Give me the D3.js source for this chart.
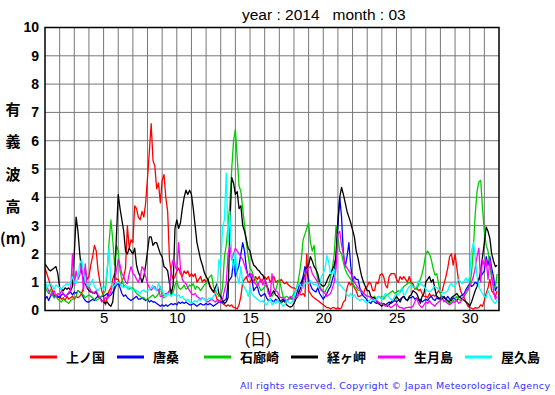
<!DOCTYPE html>
<html>
<head>
<meta charset="utf-8">
<title>有義波高 2014-03</title>
<script src="https://cdn.jsdelivr.net/npm/d3@7/dist/d3.min.js"></script>
<style>
  body { margin: 0; background: #fff; }
  svg { display: block; }
</style>
</head>
<body>
<script>
// 3時間ごとの値 (1日8個, 3/1 00時から)
var stations = ["上ノ国", "唐桑", "石廊崎", "経ヶ岬", "生月島", "屋久島"];
var colors = ["#ff0000", "#0000ff", "#00cc00", "#000000", "#ff00ff", "#00ffff"];
var xTicks = [5, 10, 15, 20, 25, 30];
var yTicks = [0, 1, 2, 3, 4, 5, 6, 7, 8, 9, 10];

var kaminokuni = [
  1.5, 1.3, 1.1, 0.9, 0.7, 0.55, 0.5, 0.45,
  0.5, 0.4, 0.45, 0.35, 0.5, 0.4, 0.45, 0.5,
  0.4, 0.5, 0.45, 0.5, 0.6, 0.8, 1.5, 1.1,
  1.2, 1.6, 1.9, 2.3, 2.1, 1.4, 1.0, 0.7,
  0.5, 0.2, 0.5, 0.7, 0.8, 1.1, 1.3, 1.1,
  1.1, 0.9, 1.0, 1.2, 1.5, 3.0, 2.2, 2.5,
  2.4, 3.7, 3.6, 3.3, 3.2, 3.5, 3.3, 3.8,
  4.7, 5.6, 6.6, 5.3, 5.1, 4.3, 4.5, 3.8,
  4.6, 4.8, 4.0, 3.5, 1.8, 1.3, 1.1, 1.2,
  1.4, 1.5, 1.3, 1.2, 1.4, 1.3, 1.4, 1.2,
  1.3, 1.2, 1.3, 1.0, 1.1, 1.2, 1.0, 1.1,
  1.0, 1.1, 0.9, 0.75, 0.7, 0.6, 0.4, 0.35,
  0.3, 0.25, 0.2, 0.15, 0.2, 0.15, 0.2, 0.1,
  0.1, 0.05, 0.2, 0.5, 1.0, 1.1, 1.2, 1.0,
  1.0, 1.1, 1.0, 1.2, 1.1, 1.2, 1.0, 1.1,
  1.2, 1.1, 1.2, 1.0, 1.1, 1.2, 1.0, 1.05,
  1.0, 1.1, 1.0, 0.95, 1.0, 0.9, 0.85, 0.8,
  0.8, 0.75, 0.7, 0.6, 0.55, 0.6, 0.5, 2.0,
  0.7, 0.6, 0.5, 0.45, 0.4, 0.35, 0.3, 0.25,
  0.2, 0.15, 0.1, 0.1, 0.05, 0.1, 0.1, 0.05,
  0.1, 0.05, 0.1, 0.3, 0.35, 0.8, 1.0, 0.9,
  1.0, 0.8, 0.7, 0.5, 0.5, 0.55, 0.6, 0.8,
  0.85, 1.0, 0.95, 0.7, 0.7, 1.0, 0.95, 1.25,
  1.3, 1.2, 0.9, 0.8, 1.2, 1.3, 1.3, 1.3,
  1.1, 1.0, 1.2, 1.1, 1.2, 1.1, 1.0, 1.2,
  1.0, 0.95, 0.75, 0.8, 0.7, 0.75, 0.6, 0.5,
  0.5, 0.45, 0.6, 0.5, 0.55, 0.5, 0.6, 0.7,
  0.6, 0.7, 0.95, 1.2, 1.5, 1.9, 2.0, 1.6,
  2.0, 1.5, 1.0, 0.7, 0.55, 0.45, 0.3, 0.15,
  0.1, 0.08, 0.05, 0.1, 0.08, 0.1, 0.2, 0.15,
  0.35, 0.6, 0.8, 1.1, 0.7, 0.6, 0.5, 0.7
];
var karakuwa = [
  0.4, 0.5, 0.35, 0.5, 0.6, 0.45, 0.55, 0.5,
  0.45, 0.55, 0.6, 0.5, 0.55, 0.6, 0.65, 0.55,
  0.65, 0.6, 0.7, 0.65, 0.6, 0.45, 0.35, 0.3,
  0.3, 0.35, 0.4, 0.35, 0.45, 0.5, 0.45, 0.5,
  0.5, 0.55, 0.6, 0.5, 0.55, 0.65, 0.75, 0.9,
  0.95, 0.8, 0.6, 0.5, 0.55, 0.45, 0.4, 0.35,
  0.4, 0.45, 0.5, 0.4, 0.4, 0.45, 0.4, 0.35,
  0.4, 0.3, 0.35, 0.3, 0.3, 0.25, 0.2, 0.15,
  0.2, 0.15, 0.2, 0.15, 0.2, 0.25, 0.2, 0.25,
  0.2, 0.3, 0.25, 0.3, 0.25, 0.3, 0.25, 0.2,
  0.2, 0.25, 0.2, 0.15, 0.2, 0.25, 0.2, 0.2,
  0.25, 0.2, 0.25, 0.2, 0.15, 0.2, 0.25, 0.3,
  0.3, 0.3, 0.35, 0.4, 1.0, 1.1, 1.2, 1.8,
  1.2, 1.4, 1.6, 2.0, 2.4, 2.1, 1.5, 1.2,
  1.3, 1.1, 0.7, 0.8, 0.85, 0.6, 0.5, 0.55,
  0.6, 0.45, 0.35, 0.4, 0.35, 0.3, 0.4, 0.35,
  0.3, 0.35, 0.4, 0.35, 0.3, 0.4, 0.45, 0.4,
  0.4, 0.5, 0.7, 0.9, 1.0, 1.2, 1.55, 1.4,
  1.1, 0.9, 0.75, 0.7, 0.65, 0.8, 0.6, 0.5,
  0.4, 0.5, 0.6, 0.75, 0.85, 1.1, 1.3, 2.0,
  3.0, 4.0, 3.3, 2.0, 1.55, 1.9, 2.4, 1.6,
  1.0, 1.2, 1.1, 1.1, 0.8, 0.6, 0.5, 0.45,
  0.35, 0.3, 0.25, 0.35, 0.3, 0.25, 0.3, 0.25,
  0.25, 0.2, 0.2, 0.25, 0.3, 0.25, 0.3, 0.35,
  0.3, 0.35, 0.4, 0.45, 0.5, 0.4, 0.35, 0.45,
  0.45, 0.5, 0.4, 0.45, 0.35, 0.4, 0.3, 0.35,
  0.4, 0.35, 0.45, 0.5, 0.4, 0.35, 0.45, 0.4,
  0.45, 0.5, 0.45, 0.4, 0.5, 0.4, 0.35, 0.45,
  0.4, 0.35, 0.45, 0.5, 0.55, 0.6, 0.75, 0.85,
  0.95, 0.85, 0.9, 1.0, 0.95, 1.1, 1.2, 1.3,
  1.4, 1.9, 1.6, 1.9, 1.5, 1.2, 0.7, 0.85
];
var irozaki = [
  0.85, 0.7, 0.6, 0.75, 0.55, 0.45, 0.5, 0.4,
  0.35, 0.3, 0.4, 0.35, 0.3, 0.25, 0.35, 0.4,
  0.45, 0.5, 0.7, 0.65, 0.6, 0.55, 0.45, 0.5,
  0.55, 0.5, 0.45, 0.4, 0.35, 0.4, 0.45, 0.5,
  0.6, 0.7, 1.4, 2.4, 3.2, 2.5, 1.6, 2.3,
  2.1, 1.4, 1.1, 0.85, 0.9, 0.8, 0.75, 0.8,
  0.8, 0.7, 0.6, 0.55, 0.5, 0.45, 0.45, 0.4,
  0.35, 0.45, 0.5, 0.55, 0.45, 0.5, 0.6, 0.85,
  0.5, 0.45, 0.5, 0.6, 0.7, 0.55, 0.65, 0.9,
  1.05, 0.8, 0.75, 0.8, 0.9, 0.75, 0.8, 0.9,
  0.85, 0.95, 0.75, 0.85, 0.8, 0.7, 0.8, 0.9,
  0.95, 1.1, 1.2, 1.25, 0.85, 0.7, 0.6, 0.5,
  0.5, 0.8, 1.9, 2.3, 3.0, 3.8, 5.0, 6.0,
  6.4, 5.4, 4.4, 4.2, 3.6, 3.0, 2.4, 1.9,
  1.5, 1.4, 1.2, 1.1, 0.95, 0.85, 0.7, 0.75,
  0.85, 0.9, 0.7, 0.55, 0.5, 0.6, 0.7, 0.95,
  1.1, 0.8, 0.5, 0.45, 0.5, 0.45, 0.4, 0.5,
  0.6, 0.7, 0.95, 1.3, 1.8, 2.5, 2.7, 2.9,
  3.1, 2.4, 2.1, 2.3, 1.5, 1.1, 0.9, 0.75,
  0.7, 0.65, 0.8, 0.9, 1.2, 1.5, 2.0, 3.0,
  2.6, 2.1, 2.0, 1.7, 1.45, 1.3, 1.2, 1.1,
  1.0, 0.85, 0.8, 0.72, 0.7, 0.65, 0.6, 0.55,
  0.5, 0.5, 0.45, 0.45, 0.5, 0.4, 0.5, 0.45,
  0.5, 0.4, 0.5, 0.55, 0.6, 0.65, 0.7, 0.6,
  0.65, 0.7, 0.65, 0.75, 0.85, 0.9, 0.95, 1.0,
  0.95, 0.85, 0.8, 0.75, 0.9, 1.1, 1.3, 1.6,
  2.0, 2.1, 2.0, 1.8, 1.5, 1.25, 1.3, 0.95,
  0.6, 0.45, 0.3, 0.35, 0.3, 0.25, 0.3, 0.35,
  0.4, 0.5, 0.4, 0.35, 0.45, 0.5, 0.6, 0.7,
  0.9, 1.3, 2.2, 3.4, 4.2, 4.55, 4.6, 3.6,
  2.8, 2.3, 2.1, 1.6, 1.1, 0.9, 0.8, 1.3
];
var kyogamisaki = [
  1.65, 1.55, 1.45, 1.4, 1.45, 1.5, 1.55, 1.3,
  0.8, 0.75, 0.7, 0.8, 0.75, 0.8, 0.7, 0.85,
  2.0, 3.3, 2.8, 2.0, 1.4, 1.1, 0.95, 0.8,
  0.7, 0.65, 0.65, 0.6, 0.65, 0.5, 0.45, 0.35,
  0.3, 0.25, 0.3, 0.2, 0.15, 0.3, 0.95, 2.6,
  4.1, 3.6, 3.2, 2.8, 2.1, 2.0, 2.2, 2.1,
  2.0, 2.2, 1.6, 1.35, 1.2, 1.0, 1.2, 1.6,
  2.1, 2.6, 2.6, 2.3, 2.4, 2.4, 2.2, 2.0,
  1.9, 1.55, 1.5, 1.4, 0.96, 0.6, 0.9, 2.9,
  3.2, 2.9, 3.1, 3.6, 4.0, 4.25, 4.1, 4.25,
  4.1, 3.6, 3.0, 2.4, 2.1, 1.8, 1.6, 1.35,
  1.2, 1.1, 0.85, 0.75, 0.65, 0.8, 0.95, 0.6,
  0.5, 0.35, 0.25, 0.3, 0.45, 3.0, 4.7, 4.5,
  4.1, 4.2, 3.6, 3.7, 3.0, 2.8, 2.5, 2.2,
  2.1, 1.8, 1.6, 1.55, 1.45, 1.4, 1.3, 1.25,
  1.1, 0.9, 0.75, 0.5, 0.6, 0.7, 0.55, 0.5,
  0.4, 0.25, 0.35, 0.3, 0.2, 0.15, 0.12, 0.15,
  0.25, 0.4, 0.5, 0.7, 0.85, 1.1, 1.25, 1.5,
  1.6, 1.9, 1.75, 1.55, 1.45, 1.3, 1.0, 0.9,
  0.85, 0.9, 1.05, 1.2, 1.3, 1.45, 1.6, 1.9,
  3.2, 4.0, 4.35, 4.1, 3.8, 3.5, 3.3, 3.1,
  2.85, 2.6, 2.1, 1.85, 1.5, 1.2, 1.0, 0.85,
  0.7, 0.7, 0.5, 0.45, 0.45, 0.35, 0.25, 0.2,
  0.15, 0.25, 0.2, 0.15, 0.2, 0.3, 0.35, 0.4,
  0.5, 0.4, 0.3, 0.45, 0.5, 0.4, 0.35, 0.5,
  0.55, 0.7, 0.65, 0.6, 0.45, 0.25, 0.5, 0.6,
  1.0, 1.1, 1.2, 1.0, 1.1, 0.75, 0.5, 0.45,
  0.4, 0.4, 0.5, 0.4, 0.35, 0.3, 0.45, 0.5,
  0.55, 0.6, 0.5, 0.45, 0.4, 0.35, 0.3, 0.25,
  0.15, 0.3, 0.5, 0.7, 0.85, 1.1, 1.4, 1.9,
  2.4, 2.95, 2.8, 2.55, 2.0, 1.75, 1.55, 1.6
];
var ikitsukishima = [
  0.95, 0.85, 0.7, 0.55, 0.6, 0.7, 0.5, 0.6,
  0.55, 0.7, 0.6, 0.5, 0.55, 0.65, 0.7, 2.0,
  0.9, 1.4, 1.1, 1.25, 1.65, 0.7, 1.65, 0.8,
  0.85, 0.7, 0.6, 0.65, 0.7, 0.55, 0.45, 0.3,
  0.35, 0.45, 0.4, 0.5, 0.7, 0.85, 1.0, 1.4,
  1.8, 1.6, 1.3, 1.2, 1.0, 0.95, 1.3, 1.55,
  1.3, 1.25, 1.1, 1.0, 1.2, 1.55, 1.45, 1.2,
  0.95, 0.8, 0.72, 0.8, 0.85, 0.7, 0.75, 0.5,
  0.5, 0.55, 0.6, 0.6, 0.7, 1.5, 1.8, 1.6,
  1.4, 2.4, 1.5, 1.1, 1.0, 0.95, 0.8, 0.7,
  0.6, 0.55, 0.6, 0.5, 0.45, 0.4, 0.45, 0.4,
  0.35, 0.3, 0.35, 0.4, 0.35, 0.3, 0.35, 0.3,
  0.35, 0.4, 0.7, 0.95, 2.0, 2.3, 1.8, 2.0,
  2.2, 2.1, 2.0, 1.9, 1.8, 1.6, 1.4, 1.2,
  1.25, 1.3, 1.0, 0.95, 0.85, 1.0, 1.1, 0.9,
  1.1, 0.95, 0.6, 0.5, 1.3, 0.8, 0.7, 0.65,
  0.5, 0.45, 0.45, 0.4, 0.35, 0.4, 0.5, 0.45,
  0.4, 0.45, 0.5, 0.6, 0.7, 0.95, 1.2, 1.45,
  1.5, 1.55, 1.3, 1.2, 1.1, 1.0, 0.8, 0.7,
  0.65, 0.6, 0.5, 0.55, 0.6, 0.8, 1.0, 1.5,
  2.7, 2.8, 2.3, 2.0, 1.6, 1.5, 1.4, 1.3,
  1.2, 1.0, 0.9, 0.8, 0.75, 0.7, 0.6, 0.55,
  0.5, 0.5, 0.45, 0.4, 0.35, 0.35, 0.3, 0.25,
  0.25, 0.2, 0.15, 0.2, 0.15, 0.1, 0.15, 0.2,
  0.25, 0.15, 0.1, 0.1, 0.05, 0.1, 0.1, 0.12,
  0.1, 0.15, 0.3, 0.45, 0.25, 0.15, 0.1, 0.2,
  0.3, 0.25, 0.35, 0.25, 0.2, 0.15, 0.25, 0.3,
  0.35, 0.4, 0.35, 0.3, 0.25, 0.2, 0.25, 0.3,
  0.3, 0.35, 0.25, 0.3, 0.4, 0.5, 0.7, 0.75,
  0.85, 1.0, 1.2, 1.5, 1.9, 2.2, 1.0, 1.8,
  1.6, 1.8, 1.1, 1.8, 1.3, 0.7, 0.4, 0.5
];
var yakushima = [
  1.1, 0.8, 0.9, 0.95, 0.85, 0.75, 0.9, 0.85,
  0.8, 0.75, 0.85, 0.9, 0.95, 0.9, 1.0, 1.2,
  1.0, 0.95, 1.2, 1.65, 1.8, 1.4, 1.0, 0.9,
  0.85, 0.95, 1.1, 0.85, 0.75, 0.7, 0.8, 0.85,
  0.75, 0.9, 1.5, 2.2, 1.0, 0.8, 0.9, 0.95,
  1.0, 0.95, 0.85, 0.8, 0.9, 0.75, 0.85, 0.8,
  0.7, 0.75, 0.7, 0.65, 0.6, 0.7, 0.72, 0.65,
  0.7, 0.75, 0.8, 0.9, 0.75, 0.72, 0.96, 0.8,
  0.7, 0.6, 0.5, 0.6, 0.55, 0.5, 0.6, 0.55,
  0.5, 0.55, 0.45, 0.5, 0.4, 0.35, 0.4, 0.3,
  0.25, 0.3, 0.35, 0.3, 0.4, 0.35, 0.45, 0.4,
  0.35, 0.4, 0.45, 0.4, 0.5, 0.6, 0.72, 1.8,
  1.55, 2.95, 3.2, 4.85, 2.4, 3.5, 1.9, 1.45,
  2.1, 1.2, 0.95, 1.55, 0.95, 0.8, 0.7, 0.5,
  0.8, 0.6, 0.5, 0.45, 0.4, 0.35, 0.3, 0.35,
  0.25, 0.2, 0.3, 0.45, 0.2, 0.3, 0.25, 0.35,
  0.3, 0.25, 0.15, 0.2, 0.35, 0.3, 0.25, 0.3,
  0.45, 0.7, 0.9, 0.95, 0.85, 0.8, 0.95, 1.0,
  0.95, 1.05, 0.96, 0.9, 0.95, 0.85, 0.9, 1.2,
  1.3, 1.5, 1.95, 1.7, 1.3, 1.35, 1.45, 1.0,
  0.95, 0.9, 0.85, 0.75, 0.72, 0.55, 0.5, 0.6,
  0.5, 0.55, 0.45, 0.4, 0.35, 0.4, 0.37, 0.3,
  0.25, 0.35, 0.4, 0.35, 0.35, 0.4, 0.5, 0.45,
  0.4, 0.5, 0.6, 0.55, 0.45, 0.4, 0.35, 0.5,
  0.6, 0.55, 0.7, 0.8, 0.55, 0.6, 0.75, 0.85,
  0.9, 0.85, 0.8, 0.85, 1.05, 0.95, 0.9, 0.85,
  0.75, 0.7, 0.65, 0.7, 0.8, 0.85, 0.8, 0.75,
  0.7, 0.65, 0.6, 0.65, 0.7, 0.9, 0.95, 0.85,
  0.85, 1.0, 1.1, 1.0, 0.95, 1.05, 1.15, 1.0,
  1.2, 2.1, 2.4, 1.9, 1.2, 0.85, 0.7, 0.6,
  0.5, 0.45, 0.7, 0.55, 0.4, 0.3, 0.25, 0.4
];
var series = [kaminokuni, karakuwa, irozaki, kyogamisaki, ikitsukishima, yakushima];

var width = 555, height = 395;
var plotL = 45, plotR = 499, plotT = 27.5, plotB = 310.5;

var svg = d3.select("body").append("svg")
    .attr("width", width)
    .attr("height", height);

var x = d3.scaleLinear().domain([1, 32]).range([plotL, plotR]);
var y = d3.scaleLinear().domain([0, 10]).range([plotB, plotT]);

// グリッド
svg.append("g").selectAll("line")
    .data(d3.range(2, 32))
    .enter().append("line")
    .attr("x1", d => x(d)).attr("x2", d => x(d))
    .attr("y1", plotT).attr("y2", plotB)
    .attr("stroke", "#777").attr("stroke-width", 1);
svg.append("g").selectAll("line")
    .data(d3.range(1, 10))
    .enter().append("line")
    .attr("x1", plotL).attr("x2", plotR)
    .attr("y1", d => y(d)).attr("y2", d => y(d))
    .attr("stroke", "#777").attr("stroke-width", 1);

// 線
svg.append("clipPath").attr("id", "plot")
    .append("rect").attr("x", plotL).attr("y", plotT)
    .attr("width", plotR - plotL).attr("height", plotB - plotT);

var line = d3.line()
    .x((d, i) => x(1 + i / 8))
    .y(d => y(d));

svg.append("g").attr("clip-path", "url(#plot)")
    .selectAll("path")
    .data(series)
    .enter().append("path")
    .attr("d", line)
    .attr("fill", "none")
    .attr("stroke", (d, i) => colors[i])
    .attr("stroke-width", 1.3)
    .attr("stroke-linejoin", "round");

// 枠
svg.append("rect")
    .attr("x", plotL).attr("y", plotT)
    .attr("width", plotR - plotL).attr("height", plotB - plotT)
    .attr("fill", "none").attr("stroke", "#000").attr("stroke-width", 1.5);

// 軸ラベル
var xAxis = d3.axisBottom(x).tickValues(xTicks).tickSize(0).tickPadding(2);
var gx = svg.append("g").attr("transform", "translate(0," + plotB + ")").call(xAxis);
gx.select(".domain").remove();
gx.selectAll("text").attr("font-family", "Liberation Sans, Arial, sans-serif")
    .attr("font-size", 15).attr("fill", "#000");

var yAxis = d3.axisLeft(y).tickValues(yTicks).tickSize(0).tickPadding(6);
var gy = svg.append("g").attr("transform", "translate(" + plotL + ",0)").call(yAxis);
gy.select(".domain").remove();
gy.selectAll("text").attr("font-family", "Liberation Sans, Arial, sans-serif")
    .attr("font-size", 14).attr("font-weight", "bold").attr("fill", "#000");

// タイトル
svg.append("text")
    .attr("x", 242).attr("y", 19.5)
    .attr("font-family", "Liberation Sans, Arial, sans-serif")
    .attr("font-size", 15.5)
    .attr("xml:space", "preserve")
    .text("year : 2014   month : 03");

// 縦軸タイトル
var ytitle = ["有", "義", "波", "高", "(m)"];
svg.append("g").selectAll("text")
    .data(ytitle)
    .enter().append("text")
    .attr("x", 13)
    .attr("y", (d, i) => 110 + i * 32.2)
    .attr("dy", "0.35em")
    .attr("text-anchor", "middle")
    .attr("font-family", "Noto Sans CJK JP")
    .attr("font-size", 15)
    .attr("font-weight", "bold")
    .text(d => d);

svg.append("text")
    .attr("x", 258).attr("y", 339.5).attr("dy", "0.35em")
    .attr("text-anchor", "middle")
    .attr("font-family", "Liberation Sans, Noto Sans CJK JP")
    .attr("font-size", 16)
    .text("(日)");

// 凡例
var legend = svg.append("g").selectAll("g")
    .data(stations)
    .enter().append("g")
    .attr("transform", (d, i) => "translate(" + (30 + i * 87) + ",357)");
legend.append("line")
    .attr("x1", 0).attr("x2", 27)
    .attr("stroke", (d, i) => colors[i])
    .attr("stroke-width", 3);
legend.append("text")
    .attr("x", 36).attr("dy", "0.35em")
    .attr("font-family", "Liberation Sans, Noto Sans CJK JP")
    .attr("font-size", 13)
    .attr("font-weight", "bold")
    .text(d => d);

svg.append("text")
    .attr("x", 240).attr("y", 389)
    .attr("font-family", "DejaVu Sans, sans-serif")
    .attr("font-size", 9.5)
    .attr("fill", "#3333ff")
    .attr("textLength", 310)
    .attr("lengthAdjust", "spacing")
    .text("All rights reserved. Copyright © Japan Meteorological Agency");
</script>
</body>
</html>
